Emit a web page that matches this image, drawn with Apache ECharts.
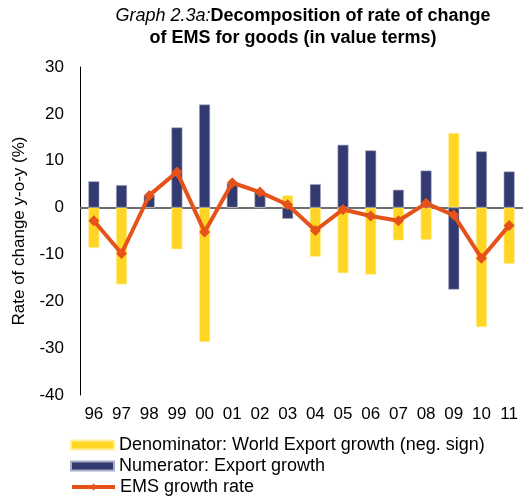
<!DOCTYPE html>
<html>
<head>
<meta charset="utf-8">
<script src="https://cdn.jsdelivr.net/npm/echarts@6/dist/echarts.min.js"></script>
<style>
  html, body { margin: 0; padding: 0; background: #fff; }
  #chart { width: 523px; height: 498px; }
</style>
</head>
<body>
<div id="chart"></div>
<script>
  // years on the x axis
  const years = ['96', '97', '98', '99', '00', '01', '02', '03', '04', '05', '06', '07', '08', '09', '10', '11'];
  // world export growth with negative sign
  const denominator = [-8.6, -16.4, 0, -8.9, -28.7, 0, 0, 2.6, -10.5, -14.0, -14.3, -7.0, -6.9, 15.9, -25.5, -12.0];
  // export growth
  const numerator = [5.6, 4.8, 2.6, 17.1, 22.0, 5.1, 3.3, -2.4, 5.0, 13.4, 12.2, 3.8, 7.9, -17.5, 12.0, 7.7];
  // EMS growth rate
  const emsGrowth = [-2.8, -9.8, 2.6, 7.6, -5.2, 5.3, 3.3, 0.6, -4.9, -0.4, -1.8, -2.8, 0.9, -1.6, -10.8, -3.8];
  const yTicks = [-40, -30, -20, -10, 0, 10, 20, 30];

  const names = [
    'Denominator: World Export growth (neg. sign)',
    'Numerator: Export growth',
    'EMS growth rate'
  ];

  const font = 'Liberation Sans, Arial, sans-serif';
  const chart = echarts.init(document.getElementById('chart'));

  // one legend per row so they stack like the original
  const legendRow = (name, top, icon) => ({
    left: 70,
    top: top,
    padding: 0,
    itemWidth: 43,
    itemHeight: 9,
    itemGap: 0,
    icon: icon,
    lineStyle: { width: 4 },
    textStyle: { fontSize: 18, fontFamily: font, color: '#000', padding: [0, 0, 0, 0] },
    data: [name]
  });

  const titleRich = {
    i: { fontStyle: 'italic', fontWeight: 'normal', fontSize: 18, fontFamily: font, color: '#000' },
    b: { fontWeight: 'bold', fontSize: 18, fontFamily: font, color: '#000' }
  };

  const option = {
    animation: false,
    textStyle: { fontFamily: font, color: '#000' },
    title: [
      {
        left: 303,
        top: 7,
        padding: 0,
        textAlign: 'center',
        text: '{i|Graph 2.3a:}{b|Decomposition of rate of change}',
        textStyle: { fontWeight: 'normal', rich: titleRich }
      },
      {
        left: 293,
        top: 29,
        padding: 0,
        textAlign: 'center',
        text: '{b|of EMS for goods (in value terms)}',
        textStyle: { fontWeight: 'normal', rich: titleRich }
      }
    ],
    grid: { left: 80, right: 0, top: 67, bottom: 103, containLabel: false },
    legend: [
      legendRow(names[0], 436, 'rect'),
      legendRow(names[1], 457, 'rect'),
      legendRow(names[2], 478, undefined)
    ],
    xAxis: {
      type: 'category',
      data: years,
      axisLine: { show: false, onZero: false },
      axisTick: { show: false },
      axisLabel: { fontSize: 17, color: '#000', margin: 11, fontFamily: font }
    },
    yAxis: {
      type: 'value',
      min: yTicks[0],
      max: yTicks[yTicks.length - 1],
      interval: 10,
      name: 'Rate of change y-o-y (%)',
      nameLocation: 'middle',
      nameGap: 52,
      nameTextStyle: { fontSize: 17, color: '#000', fontFamily: font },
      axisLine: { show: true, lineStyle: { color: '#000', width: 1 } },
      axisTick: { show: false },
      splitLine: { show: false },
      axisLabel: { fontSize: 17, color: '#000', margin: 16, fontFamily: font }
    },
    series: [
      {
        name: names[0],
        type: 'bar',
        data: denominator,
        barWidth: 11,
        barGap: '-100%',
        itemStyle: { color: '#FFD624', borderColor: '#FFEFA0', borderWidth: 0.6 }
      },
      {
        name: names[1],
        type: 'bar',
        data: numerator,
        barWidth: 11,
        itemStyle: { color: '#333A70', borderColor: '#A8ADC8', borderWidth: 0.6 }
      },
      {
        name: names[2],
        type: 'line',
        data: emsGrowth,
        symbol: 'diamond',
        symbolSize: 11,
        z: 5,
        lineStyle: { color: '#E5531A', width: 4 },
        itemStyle: { color: '#E5531A' },
        markLine: {
          silent: true,
          symbol: 'none',
          label: { show: false },
          lineStyle: { color: '#6E6E6E', width: 2, type: 'solid' },
          data: [{ yAxis: 0 }],
          z: 1
        }
      }
    ]
  };

  chart.setOption(option);
</script>
</body>
</html>
